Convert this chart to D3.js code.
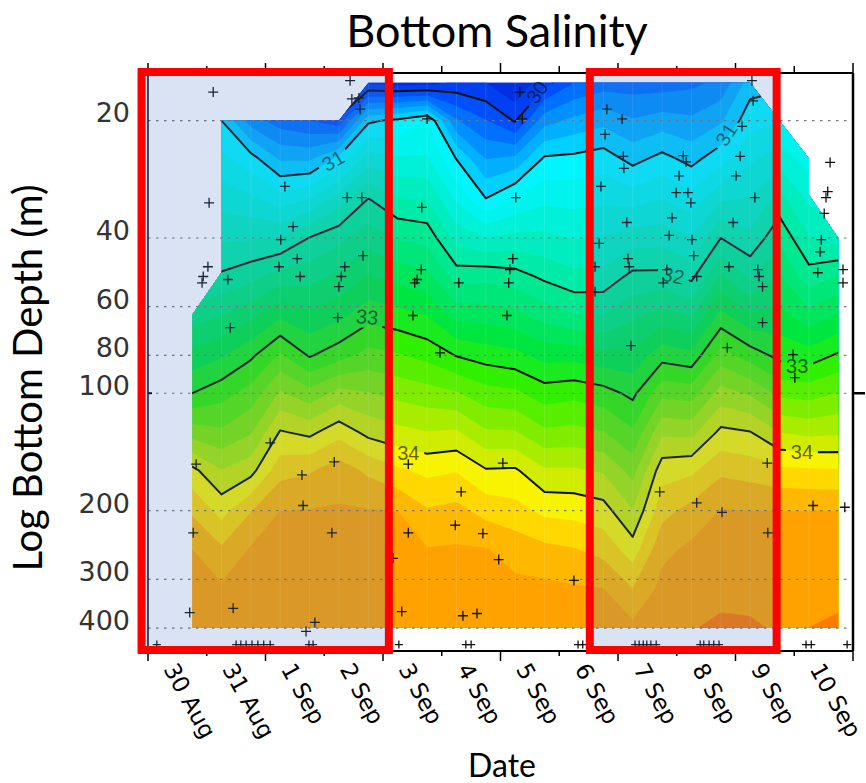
<!DOCTYPE html>
<html>
<head>
<meta charset="utf-8">
<script src="https://cdn.jsdelivr.net/npm/d3@7"></script>
<style>
  body { margin: 0; background: #fff; }
  svg { display: block; }
</style>
</head>
<body>
<svg id="chart" width="866" height="783"></svg>
<script>
// x values are days after 30 Aug 00:00, depths are metres

const dayLabels = ["30 Aug", "31 Aug", "1 Sep", "2 Sep", "3 Sep", "4 Sep", "5 Sep",
                   "6 Sep", "7 Sep", "8 Sep", "9 Sep", "10 Sep"];
const depthTicks = [20, 40, 60, 80, 100, 200, 300, 400];

// gridded salinity: columns (half-day stations) x depth rows
const gridDays = [0.75, 1.25, 1.75, 2.25, 2.75, 3.25, 3.75, 4.25, 4.75, 5.25, 5.75, 6.25,
                  6.75, 7.25, 7.75, 8.25, 8.75, 9.25, 9.75, 10.25, 10.75, 11.25, 11.75];
const gridDepths = [16, 20, 25, 32, 40, 50, 63, 80, 100, 126, 158, 200, 251, 316, 398];

const sal16  = [30.7, 30.75, 30.0, 29.9, 29.8, 29.6, 29.75, 29.7, 29.7, 29.85, 29.8, 29.6, 29.93, 30.2, 30.3, 30.3, 30.3, 30.35, 30.45, 30.9, 30.95, 30.9, 30.9];
const sal20  = [30.95, 31.0, 30.5, 30.3, 30.2, 30.05, 30.96, 31.05, 31.2, 30.42, 30.21, 29.98, 30.52, 30.65, 30.74, 30.62, 30.69, 30.64, 30.77, 31.13, 31.18, 31.1, 31.1];
const sal25  = [31.2, 31.25, 31.08, 30.77, 30.76, 31.06, 31.49, 31.42, 31.42, 30.99, 30.59, 30.64, 31.03, 31.05, 31.1, 30.93, 31.06, 30.93, 31.12, 31.36, 31.51, 31.3, 31.3];
const sal32  = [31.45, 31.53, 31.45, 31.31, 31.42, 31.71, 32.02, 31.83, 31.8, 31.38, 31.02, 31.24, 31.36, 31.34, 31.37, 31.33, 31.41, 31.29, 31.59, 31.62, 31.88, 31.57, 31.5];
const sal40  = [31.7, 31.77, 31.78, 31.8, 32.01, 32.14, 32.31, 32.18, 32.13, 31.73, 31.6, 31.66, 31.65, 31.59, 31.61, 31.7, 31.72, 31.61, 32.0, 31.85, 32.15, 31.81, 31.7];
const sal50  = [31.95, 32.03, 32.13, 32.28, 32.32, 32.44, 32.61, 32.52, 32.45, 32.1, 32.13, 32.08, 31.95, 31.85, 31.86, 32.05, 32.05, 31.94, 32.42, 32.16, 32.41, 32.08, 32.21];
const sal63  = [32.3, 32.39, 32.54, 32.76, 32.64, 32.74, 32.92, 32.87, 32.79, 32.53, 32.51, 32.46, 32.32, 32.21, 32.2, 32.35, 32.48, 32.38, 32.86, 32.62, 32.67, 32.47, 32.61];
const sal80  = [32.66, 32.78, 32.96, 33.23, 32.98, 33.12, 33.27, 33.22, 33.14, 32.99, 32.91, 32.86, 32.73, 32.73, 32.67, 32.66, 32.92, 32.86, 33.29, 33.11, 32.94, 32.89, 33.03];
const sal100 = [33.0, 33.12, 33.28, 33.63, 33.47, 33.67, 33.61, 33.54, 33.48, 33.42, 33.28, 33.24, 33.1, 33.14, 33.08, 32.95, 33.34, 33.31, 33.68, 33.57, 33.35, 33.32, 33.41];
const sal126 = [33.51, 33.44, 33.58, 34.02, 33.95, 34.13, 33.94, 33.86, 33.81, 33.83, 33.63, 33.62, 33.44, 33.46, 33.41, 33.23, 33.76, 33.74, 34.05, 34.01, 33.8, 33.75, 33.77];
const sal158 = [34.06, 33.81, 33.93, 34.33, 34.38, 34.51, 34.36, 34.24, 34.15, 34.19, 34.02, 34.03, 33.83, 33.83, 33.78, 33.53, 34.12, 34.16, 34.36, 34.32, 34.25, 34.23, 34.22];
const sal200 = [34.37, 34.13, 34.39, 34.6, 34.61, 34.62, 34.61, 34.6, 34.42, 34.46, 34.33, 34.27, 34.15, 34.13, 34.08, 33.81, 34.33, 34.47, 34.61, 34.6, 34.6, 34.6, 34.6];
const sal251 = [34.6, 34.43, 34.62, 34.64, 34.64, 34.65, 34.64, 34.64, 34.61, 34.62, 34.61, 34.52, 34.45, 34.41, 34.33, 34.09, 34.55, 34.64, 34.67, 34.67, 34.66, 34.66, 34.67];
const sal316 = [34.65, 34.63, 34.66, 34.68, 34.67, 34.68, 34.67, 34.67, 34.67, 34.67, 34.66, 34.65, 34.65, 34.62, 34.6, 34.4, 34.66, 34.72, 34.75, 34.75, 34.72, 34.73, 34.75];
const sal398 = [34.7, 34.7, 34.7, 34.7, 34.7, 34.7, 34.7, 34.7, 34.72, 34.72, 34.72, 34.72, 34.72, 34.72, 34.7, 34.65, 34.74, 34.79, 34.83, 34.82, 34.78, 34.8, 34.83];

// outline of the gridded area
const coverDay   = [0.75, 0.75, 1.25, 1.25, 3.25, 3.75, 10.25, 11.25, 11.25, 11.75, 11.75];
const coverDepth = [400, 63, 49, 20, 20, 16, 16, 25, 31, 40, 400];

// contour lines and their labels
const lineLevels = [30, 31, 32, 33, 34];
const labelValue = [30, 31, 31, 32, 33, 33, 34, 34];
const labelDay   = [6.62, 3.15, 9.84, 8.94, 3.73, 11.05, 4.43, 11.13];
const labelDepth = [16.9, 25.3, 21.7, 49.9, 63.7, 84.9, 142, 141];
const labelAngle = [-55, -30, -58, 12, 5, 0, 0, 0];

// sample positions (+)
const sampleDay = [3.44, 1.11, 3.47, 3.59, 3.61, 4.75, 2.33, 1.04, 3.39, 3.64, 4.66, 2.47, 2.26, 1.02, 0.94, 0.92,
  1.36, 2.23, 2.54, 2.59, 3.35, 3.29, 3.25, 3.66, 4.65, 4.58, 4.54, 5.29, 1.40, 3.23, 4.51, 4.97,
  6.33, 6.37, 6.26, 10.28, 10.30, 10.11, 7.81, 8.07, 7.78, 8.09, 8.10, 9.11, 9.16, 9.04, 10.08, 10.01,
  7.71, 8.99, 9.19, 9.24, 10.33, 11.61, 11.57, 11.54, 11.51, 8.92, 8.15, 9.96, 8.87, 9.26, 7.68, 11.46,
  9.29, 11.44, 6.21, 6.16, 6.14, 7.61, 7.61, 8.17, 8.19, 8.83, 8.77, 9.34, 9.89, 10.38, 10.40, 10.46,
  11.40, 11.83, 11.83, 6.11, 10.46, 8.22, 0.82, 2.08, 3.17, 2.62, 2.64, 0.77, 3.13, 4.43, 5.33, 4.43,
  5.23, 5.70, 4.17, 0.71, 1.45, 2.84, 2.69, 4.32, 5.36, 5.60, 9.86, 10.98, 11.01, 6.04, 10.54, 8.71,
  9.34, 9.77, 10.55, 11.32, 11.86, 5.97, 7.25];
const sampleDepth = [15.8, 16.9, 17.6, 17.5, 18.7, 19.8, 29.5, 32.5, 31.5, 31.5, 33.4, 37.4, 40.4, 47.4, 50.2, 52.1,
  51.1, 47.4, 45.2, 50.2, 47.4, 50.2, 53.3, 44.4, 48.2, 51.1, 52.1, 52.1, 67.9, 64.0, 63.2, 78.8,
  16.9, 19.8, 31.5, 15.8, 17.8, 20.7, 18.7, 19.8, 21.7, 24.7, 26.5, 24.6, 25.5, 27.7, 24.7, 27.7,
  29.5, 30.6, 30.6, 32.5, 31.5, 25.6, 30.4, 31.5, 34.6, 35.5, 36.5, 36.5, 39.4, 40.4, 41.3, 40.4,
  44.4, 43.4, 45.2, 48.2, 52.1, 47.4, 54.9, 45.2, 47.4, 48.2, 52.1, 50.2, 47.4, 48.2, 50.2, 53.3,
  49.1, 48.2, 52.1, 63.2, 65.9, 75.5, 152, 134, 150, 162, 194, 228, 228, 152, 179, 228,
  218, 229, 265, 365, 356, 387, 408, 363, 372, 367, 76.4, 79.6, 91.2, 151, 151, 179,
  191, 202, 228, 194, 196, 267, 302];
// stations plotted on the floor line
const floorDay = [0.15, 1.50, 1.58, 1.67, 1.77, 1.87, 1.97, 2.08, 2.74, 2.81, 4.27, 5.41, 5.50, 7.32, 7.40,
  8.29, 8.36, 8.43, 8.49, 8.56, 8.65, 9.40, 9.46, 9.55, 9.63, 9.72, 11.20, 11.29, 11.90];
const floorDepth = 441;

// highlighted periods (red boxes)
const boxStart = [-0.11, 7.52];
const boxEnd   = [4.10, 10.70];

// ---------------------------------------------------------------

const plot = { left: 148, right: 853, top: 73, bottom: 651 };

const x = d3.scaleLinear().domain([0, 12]).range([plot.left, plot.right]);
const y = d3.scaleLog().domain([15.1, 458]).range([plot.top, plot.bottom]);

const colour = d3.scaleLinear()
  .domain([29.7, 30.1, 30.5, 30.9, 31.1, 31.5, 31.9, 32.3, 32.7, 33.1, 33.5, 33.9, 34.1, 34.3, 34.5, 34.7, 34.9])
  .range(["#0030e0", "#0050ff", "#0090ff", "#00d0ff", "#00f5ff", "#00f0d8", "#00eba8", "#00e678",
          "#00e640", "#30f000", "#80ec00", "#d0ec00", "#f8f400", "#ffd800", "#ffb800", "#ffa200", "#ff7a00"])
  .clamp(true);

const svg = d3.select("#chart");
const defs = svg.append("defs");

// grid -> pixels
const salRows = [sal16, sal20, sal25, sal32, sal40, sal50, sal63, sal80, sal100, sal126, sal158, sal200, sal251, sal316, sal398];
const nx = gridDays.length, ny = gridDepths.length;
const values = salRows.flat();

const colToDay = d3.scaleLinear().domain(d3.range(nx)).range(gridDays);
const rowToLog = d3.scaleLinear().domain(d3.range(ny)).range(gridDepths.map(Math.log10));

const gridPath = d3.geoPath(d3.geoTransform({
  point(cx, cy) {
    this.stream.point(x(colToDay(cx - 0.5)), y(Math.pow(10, rowToLog(cy - 0.5))));
  }
}));

// clip to the gridded area
defs.append("clipPath").attr("id", "cover")
  .append("path")
  .attr("d", d3.line()(coverDay.map((d, i) => [x(d), y(coverDepth[i])])) + "Z");

// gaps in the lines behind the labels
const mask = defs.append("mask").attr("id", "labelGaps")
  .attr("maskUnits", "userSpaceOnUse")
  .attr("x", 0).attr("y", 0).attr("width", 866).attr("height", 783);
mask.append("rect").attr("width", 866).attr("height", 783).attr("fill", "#fff");
mask.selectAll("rect.gap")
  .data(labelValue)
  .join("rect")
  .attr("class", "gap")
  .attr("x", -16).attr("y", -11).attr("width", 32).attr("height", 22)
  .attr("fill", "#000")
  .attr("transform", (d, i) => `translate(${x(labelDay[i])},${y(labelDepth[i])}) rotate(${labelAngle[i]})`);

// filled bands
const bandThresholds = d3.range(147, 176).map(i => i / 5);
const bands = d3.contours().size([nx, ny]).thresholds(bandThresholds)(values);

const field = svg.append("g").attr("clip-path", "url(#cover)");
field.selectAll("path.band")
  .data(bands)
  .join("path")
  .attr("class", "band")
  .attr("d", gridPath)
  .attr("fill", d => colour(d.value + 0.1));

// faint seams at the stations
field.selectAll("line.seam")
  .data(gridDays)
  .join("line")
  .attr("class", "seam")
  .attr("x1", d => x(d)).attr("x2", d => x(d))
  .attr("y1", plot.top).attr("y2", plot.bottom)
  .attr("stroke", "#fff").attr("stroke-opacity", 0.12).attr("stroke-width", 1);

// contour lines
const lines = d3.contours().size([nx, ny]).thresholds(lineLevels)(values);
svg.append("g").attr("clip-path", "url(#cover)")
  .append("g").attr("mask", "url(#labelGaps)")
  .selectAll("path")
  .data(lines)
  .join("path")
  .attr("d", gridPath)
  .attr("fill", "none")
  .attr("stroke", "#111")
  .attr("stroke-width", 2)
  .attr("stroke-linejoin", "round");

svg.append("g").selectAll("text")
  .data(labelValue)
  .join("text")
  .attr("transform", (d, i) => `translate(${x(labelDay[i])},${y(labelDepth[i])}) rotate(${labelAngle[i]})`)
  .attr("text-anchor", "middle")
  .attr("dy", "0.36em")
  .attr("font-family", "Liberation Sans, Arial, sans-serif")
  .attr("font-size", 20)
  .attr("fill", "#000")
  .attr("fill-opacity", 0.6)
  .text(d => d);

// dotted depth grid
svg.append("g").selectAll("line")
  .data(depthTicks)
  .join("line")
  .attr("x1", plot.left).attr("x2", plot.right)
  .attr("y1", d => y(d)).attr("y2", d => y(d))
  .attr("stroke", "#777").attr("stroke-width", 1.2)
  .attr("stroke-dasharray", "2.5,5.5");

// sample crosses
const cross = "M-5,0H5M0,-5V5";
const marks = svg.append("g").attr("stroke", "#111").attr("stroke-width", 1.3).attr("fill", "none");
marks.selectAll("path.s")
  .data(sampleDay)
  .join("path")
  .attr("class", "s")
  .attr("d", cross)
  .attr("transform", (d, i) => `translate(${x(d)},${y(sampleDepth[i])})`);
marks.selectAll("path.f")
  .data(floorDay)
  .join("path")
  .attr("class", "f")
  .attr("d", "M-4,0H4M0,-4V4")
  .attr("transform", d => `translate(${x(d)},${y(floorDepth)})`);

// frame and ticks
const frame = svg.append("g").attr("stroke", "#000").attr("fill", "none");
frame.append("line").attr("x1", plot.left).attr("x2", plot.right)
  .attr("y1", plot.top).attr("y2", plot.top).attr("stroke-width", 2);
frame.append("line").attr("x1", plot.left).attr("x2", plot.right)
  .attr("y1", plot.bottom).attr("y2", plot.bottom).attr("stroke-width", 2);
frame.append("line").attr("x1", plot.left).attr("x2", plot.left)
  .attr("y1", plot.top).attr("y2", plot.bottom).attr("stroke-width", 1.5);
frame.append("line").attr("x1", plot.right).attr("x2", plot.right)
  .attr("y1", plot.top).attr("y2", plot.bottom).attr("stroke-width", 2.5);
frame.append("line").attr("x1", plot.right).attr("x2", plot.right + 12)
  .attr("y1", y(100)).attr("y2", y(100)).attr("stroke-width", 2.5);
frame.append("line").attr("x1", plot.left).attr("x2", plot.left + 4)
  .attr("y1", y(100)).attr("y2", y(100)).attr("stroke-width", 2);

const dayTicks = d3.range(dayLabels.length + 1);
frame.selectAll("line.top")
  .data(dayTicks)
  .join("line")
  .attr("class", "top")
  .attr("x1", d => x(d)).attr("x2", d => x(d))
  .attr("y1", plot.top).attr("y2", d => plot.top - (d % 2 ? 7 : 10))
  .attr("stroke-width", 1.5);
frame.selectAll("line.bot")
  .data(dayTicks)
  .join("line")
  .attr("class", "bot")
  .attr("x1", d => x(d)).attr("x2", d => x(d))
  .attr("y1", plot.bottom).attr("y2", d => plot.bottom + (d % 2 ? 5 : 10))
  .attr("stroke-width", 1.5);

// date labels
svg.append("g").selectAll("text")
  .data(dayLabels)
  .join("text")
  .attr("transform", (d, i) => `translate(${x(i) + 15},${plot.bottom + 18}) rotate(61)`)
  .attr("font-family", "DejaVu Sans, Verdana, sans-serif")
  .attr("font-size", 23)
  .attr("fill", "#000")
  .text(d => d);

// depth labels
const yAxis = svg.append("g")
  .attr("transform", `translate(${plot.left},0)`)
  .call(d3.axisLeft(y).tickValues(depthTicks).tickFormat(d3.format("d")).tickSize(0).tickPadding(18));
yAxis.select(".domain").remove();
yAxis.selectAll("text")
  .attr("font-family", "DejaVu Sans, Verdana, sans-serif")
  .attr("font-size", 27)
  .attr("fill", "#333")
  .attr("dy", "0.05em");

// highlighted periods
const boxes = svg.append("g");
boxes.selectAll("rect")
  .data(boxStart)
  .join("rect")
  .attr("x", (d, i) => x(d))
  .attr("width", (d, i) => x(boxEnd[i]) - x(d))
  .attr("y", plot.top - 1)
  .attr("height", plot.bottom - plot.top)
  .attr("fill", "#4472c4").attr("fill-opacity", 0.2)
  .attr("stroke", "#ff0000").attr("stroke-width", 8);

// titles
svg.append("text")
  .attr("x", 497).attr("y", 47)
  .attr("text-anchor", "middle")
  .attr("font-family", "Lato, sans-serif")
  .attr("font-size", 45)
  .text("Bottom Salinity");
svg.append("text")
  .attr("transform", "translate(42,378) rotate(-90)")
  .attr("text-anchor", "middle")
  .attr("font-family", "Lato, sans-serif")
  .attr("font-size", 40)
  .text("Log Bottom Depth (m)");
svg.append("text")
  .attr("x", 502).attr("y", 777)
  .attr("text-anchor", "middle")
  .attr("font-family", "Lato, sans-serif")
  .attr("font-size", 32)
  .text("Date");
</script>
</body>
</html>
